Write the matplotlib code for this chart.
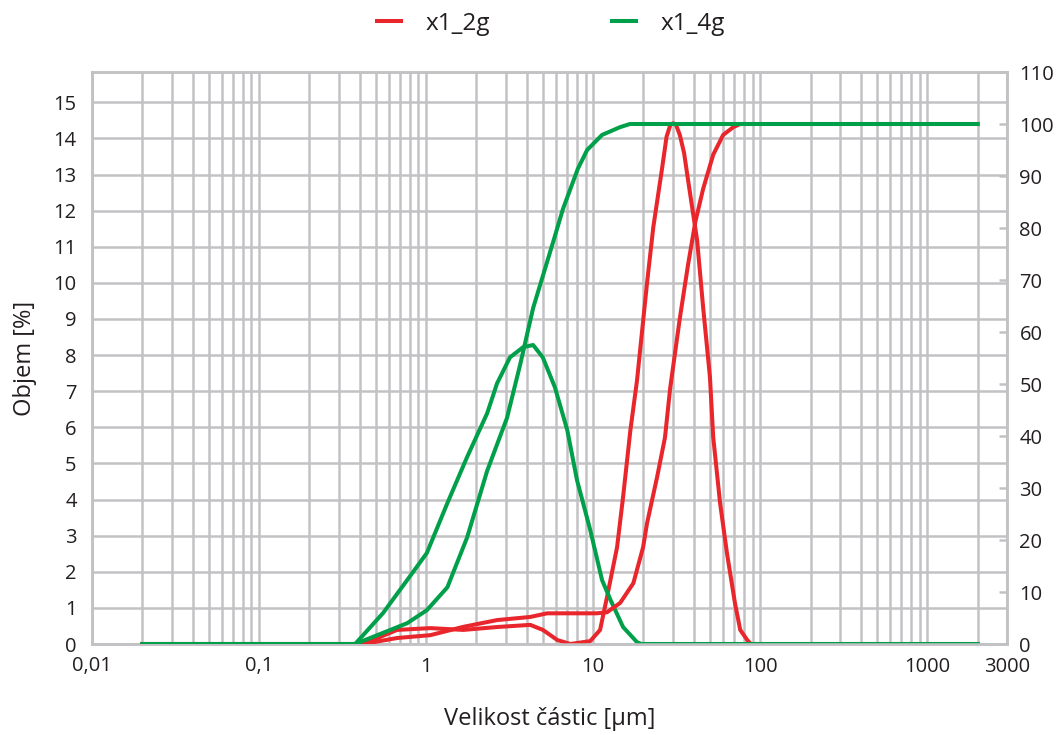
import matplotlib.pyplot as plt
from matplotlib.ticker import FixedLocator, NullFormatter

plt.rcParams['font.family'] = ['Open Sans', 'DejaVu Sans']

RED = '#e8262c'
GREEN = '#00a04b'
GRID = '#c2c2c5'
TEXT = '#231f20'

# x1_2g - frequency (left axis, %)
x_2g_freq = [0.02, 0.42, 0.67, 1.06, 1.67, 2.66, 4.2, 5.0, 6.1, 7.3, 9.6, 11.0, 12.1,
             13.9, 15.1, 16.7, 18.3, 21.0, 22.9, 25.9, 27.5, 29.0, 30.1, 31.3, 33.0,
             35.0, 37.0, 41.9, 45.5, 50.0, 52.3, 57.5, 63.2, 70.6, 75.9, 83.6, 88.0, 2000]
y_2g_freq = [0, 0, 0.39, 0.44, 0.39, 0.47, 0.53, 0.39, 0.11, 0, 0.08, 0.39, 1.3,
             2.68, 4.07, 5.92, 7.3, 9.99, 11.54, 13.2, 14.05, 14.38, 14.42, 14.38, 14.1,
             13.6, 12.84, 11.18, 9.33, 7.39, 5.73, 3.9, 2.52, 1.13, 0.39, 0.11, 0, 0]

# x1_2g - cumulative (right axis, %)
x_2g_cum = [0.02, 0.42, 0.67, 1.06, 1.67, 2.66, 4.2, 5.3, 10.5, 12.1, 14.5, 17.4,
            19.9, 21.0, 24.1, 26.9, 28.9, 33.0, 37.0, 40.9, 45.5, 52.3, 60.0, 69.0,
            75.9, 2000]
y_2g_cum = [0, 0, 1.15, 1.7, 3.3, 4.6, 5.2, 5.9, 5.9, 6.1, 7.9, 11.7,
            18.6, 23.2, 32.0, 39.7, 49.2, 62.6, 73.0, 81.2, 87.5, 94.1, 97.9, 99.4,
            100, 100]

# x1_4g - frequency (left axis, %)
x_4g_freq = [0.02, 0.376, 0.553, 0.77, 1.01, 1.34, 1.76, 2.32, 2.66, 3.18, 3.81,
             4.37, 4.99, 5.9, 7.0, 8.0, 9.6, 11.3, 12.7, 15.1, 18.3, 19.5, 2000]
y_4g_freq = [0, 0, 0.86, 1.77, 2.52, 3.9, 5.18, 6.39, 7.22, 7.94, 8.22,
             8.28, 7.94, 7.11, 5.92, 4.54, 3.16, 1.77, 1.22, 0.47, 0.05, 0, 0]

# x1_4g - cumulative (right axis, %)
x_4g_cum = [0.02, 0.376, 0.77, 1.01, 1.34, 1.76, 2.32, 3.05, 3.66, 4.37, 5.77,
            6.6, 8.1, 9.2, 11.3, 14.5, 16.6, 2000]
y_4g_cum = [0, 0, 4.0, 6.5, 10.9, 20.5, 33.3, 43.5, 53.8, 64.6, 77.4,
            83.7, 91.4, 95.0, 97.9, 99.4, 100, 100]

x_ticks = [0.01, 0.1, 1, 10, 100, 1000, 3000]
x_tick_labels = ['0,01', '0,1', '1', '10', '100', '1000', '3000']


def minor_positions():
    pos = []
    for dec in [0.01, 0.1, 1, 10, 100, 1000]:
        for m in range(2, 10):
            v = dec * m
            if v <= 3000:
                pos.append(v)
    return pos


def main():
    fig = plt.figure(figsize=(10.57, 7.35), dpi=100)
    ax = fig.add_axes([92 / 1057, 91 / 735, 915 / 1057, 572 / 735])
    ax2 = ax.twinx()

    ax.set_xscale('log')
    ax.set_xlim(0.01, 3000)
    ax.set_ylim(0, 15.84)
    ax2.set_ylim(0, 110)

    # grid
    for v in x_ticks[:-1] + minor_positions():
        ax.axvline(v, color=GRID, lw=1.8, zorder=0)
    for v in range(0, 16):
        ax.axhline(v, color=GRID, lw=1.8, zorder=0)

    for a in (ax, ax2):
        for s in a.spines.values():
            s.set_color(GRID)
            s.set_linewidth(1.8)

    ax.xaxis.set_major_locator(FixedLocator(x_ticks))
    ax.xaxis.set_minor_locator(FixedLocator(minor_positions()))
    ax.xaxis.set_minor_formatter(NullFormatter())
    ax.set_xticklabels(x_tick_labels)
    ax.set_yticks(range(0, 16))
    ax.tick_params(axis='both', which='both', length=0, labelsize=14.5,
                   labelcolor=TEXT, pad=11)
    ax.tick_params(axis='x', pad=9)

    ax2.set_yticks(range(0, 111, 10))
    ax2.tick_params(axis='y', direction='in', length=6, width=1.8, color=GRID,
                    labelsize=14.5, labelcolor=TEXT, pad=9)

    ax.plot(x_2g_freq, y_2g_freq, color=RED, lw=2.9, zorder=3)
    ax2.plot(x_2g_cum, y_2g_cum, color=RED, lw=2.9, zorder=3)
    ax.plot(x_4g_freq, y_4g_freq, color=GREEN, lw=2.9, zorder=4)
    ax2.plot(x_4g_cum, y_4g_cum, color=GREEN, lw=2.9, zorder=4)

    ax.set_ylabel('Objem [%]', fontsize=17, color=TEXT, labelpad=12)
    ax.set_xlabel('Velikost částic [µm]', fontsize=17, color=TEXT, labelpad=22)

    h1, = ax.plot([], [], color=RED, lw=2.9, label='x1_2g')
    h2, = ax.plot([], [], color=GREEN, lw=2.9, label='x1_4g')
    fig.legend(handles=[h1, h2], loc='center', bbox_to_anchor=(0.521, 0.968),
               ncol=2, frameon=False, fontsize=17.5, handlelength=1.0,
               columnspacing=5.0, handletextpad=1.0, labelcolor=TEXT)

    fig.savefig('out.png', dpi=100)


if __name__ == '__main__':
    main()
